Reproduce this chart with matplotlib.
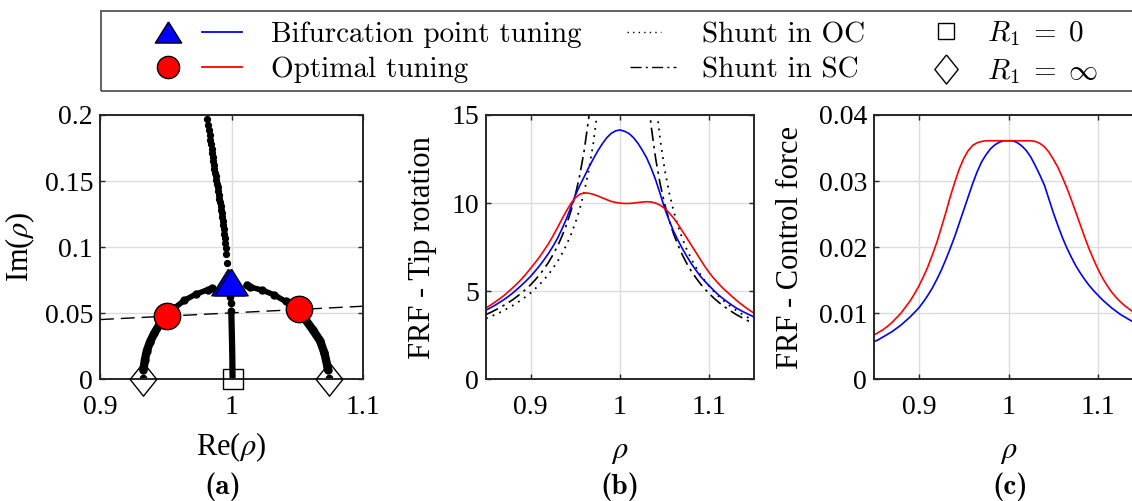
import numpy as np
import matplotlib
matplotlib.use("Agg")
import matplotlib.pyplot as plt
from matplotlib.lines import Line2D
from matplotlib.patches import Rectangle
from matplotlib.legend_handler import HandlerLine2D
from matplotlib.font_manager import FontProperties

plt.rcParams['font.family'] = ['Liberation Serif', 'DejaVu Serif']
plt.rcParams['mathtext.fontset'] = 'stix'

#---- (a) root locus
top_re = [0.9814, 0.9821, 0.9827, 0.9833, 0.9838, 0.9843, 0.9848, 0.9853, 0.9858, 0.9862,
          0.9866, 0.9870, 0.9875, 0.9880, 0.9884, 0.9889, 0.9894, 0.9898, 0.9903, 0.9908,
          0.9913, 0.9917, 0.9922, 0.9926, 0.9930, 0.9934, 0.9938, 0.9942, 0.9946, 0.9950,
          0.9954, 0.9957, 0.9960, 0.9963]
top_im = [0.1967, 0.1925, 0.1885, 0.1848, 0.1812, 0.1778, 0.1745, 0.1713, 0.1682, 0.1652,
          0.1622, 0.1593, 0.1564, 0.1536, 0.1508, 0.1480, 0.1452, 0.1424, 0.1396, 0.1368,
          0.1340, 0.1312, 0.1284, 0.1255, 0.1226, 0.1196, 0.1166, 0.1135, 0.1103, 0.1070,
          0.1035, 0.0995, 0.0945, 0.0880]
left_re = [0.9330, 0.9341, 0.9356, 0.9381, 0.9413, 0.9451, 0.9496, 0.9565, 0.9641, 0.9728, 0.9820, 0.9850]
left_im = [0.0072, 0.0144, 0.0215, 0.0284, 0.0349, 0.0411, 0.0469, 0.0538, 0.0597, 0.0644, 0.0678, 0.0688]
right_re = [1.0115, 1.0138, 1.0234, 1.0326, 1.0412, 1.0490, 1.0559, 1.0617, 1.0673, 1.0707, 1.0729, 1.0735]
right_im = [0.0712, 0.0699, 0.0675, 0.0638, 0.0589, 0.0528, 0.0456, 0.0376, 0.0293, 0.0198, 0.0100, 0.0070]
mid_re = [0.9992, 0.9995, 0.9998, 1.0000, 1.0002, 1.0004, 1.0006, 1.0007, 1.0008]
mid_im = [0.0625, 0.0580, 0.0520, 0.0450, 0.0370, 0.0280, 0.0180, 0.0090, 0.0017]
end_re = [0.9326, 1.0738]
end_im = [0.0013, 0.0013]
dash_re = [0.9, 1.1]
dash_im = [0.0452, 0.0553]
opt_re = [0.9507, 1.0513]
opt_im = [0.0477, 0.0535]
bif_re = [0.9975, 0.9995]
bif_im = [0.0737, 0.0737]
r0_re, r0_im = [1.0009], [0.0]
rinf_re, rinf_im = [0.9326, 1.0745], [0.0, 0.0]

#---- (b), (c) frequency responses, rho = 0.85 ... 1.15 in steps of 0.005
rho = [0.850, 0.855, 0.860, 0.865, 0.870, 0.875, 0.880, 0.885, 0.890, 0.895,
       0.900, 0.905, 0.910, 0.915, 0.920, 0.925, 0.930, 0.935, 0.940, 0.945,
       0.950, 0.955, 0.960, 0.965, 0.970, 0.975, 0.980, 0.985, 0.990, 0.995,
       1.000, 1.005, 1.010, 1.015, 1.020, 1.025, 1.030, 1.035, 1.040, 1.045,
       1.050, 1.055, 1.060, 1.065, 1.070, 1.075, 1.080, 1.085, 1.090, 1.095,
       1.100, 1.105, 1.110, 1.115, 1.120, 1.125, 1.130, 1.135, 1.140, 1.145, 1.150]
tip_bif = [3.92, 4.06, 4.20, 4.36, 4.52, 4.70, 4.90, 5.12, 5.35, 5.59,
           5.85, 6.14, 6.45, 6.79, 7.15, 7.55, 8.00, 8.53, 9.10, 9.77,
           10.45, 11.00, 11.50, 12.02, 12.50, 12.95, 13.35, 13.70, 13.95, 14.10,
           14.15, 14.08, 13.95, 13.72, 13.40, 13.00, 12.55, 11.97, 11.30, 10.52,
           9.70, 9.02, 8.40, 7.88, 7.40, 6.96, 6.55, 6.19, 5.85, 5.56,
           5.30, 5.04, 4.80, 4.59, 4.40, 4.22, 4.05, 3.91, 3.78, 3.66, 3.54]
tip_opt = [4.05, 4.21, 4.38, 4.56, 4.75, 4.97, 5.20, 5.44, 5.70, 5.99,
           6.30, 6.62, 6.95, 7.32, 7.70, 8.14, 8.60, 9.09, 9.55, 9.98,
           10.30, 10.50, 10.58, 10.56, 10.50, 10.41, 10.30, 10.20, 10.10, 10.04,
           10.00, 9.98, 9.98, 10.00, 10.03, 10.06, 10.08, 10.06, 10.00, 9.88,
           9.70, 9.45, 9.15, 8.79, 8.40, 8.00, 7.60, 7.20, 6.80, 6.40,
           6.05, 5.73, 5.45, 5.18, 4.95, 4.72, 4.50, 4.29, 4.10, 3.92, 3.75]
tip_oc = [3.45, 3.55, 3.67, 3.78, 3.91, 4.05, 4.19, 4.35, 4.52, 4.71,
          4.91, 5.14, 5.38, 5.66, 5.96, 6.30, 6.68, 7.12, 7.62, 8.20,
          8.87, 9.68, 10.65, 11.85, 13.35, 15.3, 17.9, 21.7, 27.5, 40.0,
          59.0, 80.0, 80.0, 77.0, 43.7, 30.3, 23.2, 18.8, 15.8, 13.6,
          11.9, 10.6, 9.55, 8.68, 7.96, 7.34, 6.81, 6.35, 5.95, 5.59,
          5.27, 4.99, 4.73, 4.50, 4.29, 4.09, 3.92, 3.75, 3.60, 3.46, 3.33]
tip_sc = [3.68, 3.79, 3.92, 4.05, 4.20, 4.35, 4.52, 4.71, 4.91, 5.13,
          5.37, 5.64, 5.93, 6.27, 6.64, 7.07, 7.55, 8.11, 8.76, 9.53,
          10.46, 11.59, 13.01, 14.83, 17.26, 20.66, 25.8, 34.3, 51.0, 80.0,
          80.0, 80.0, 50.7, 33.7, 25.2, 20.1, 16.75, 14.32, 12.50, 11.08,
          9.95, 9.02, 8.25, 7.60, 7.04, 6.55, 6.13, 5.76, 5.42, 5.12,
          4.86, 4.61, 4.39, 4.19, 4.01, 3.84, 3.68, 3.54, 3.40, 3.28, 3.16]
force_bif = [0.0057, 0.0060, 0.0064, 0.0068, 0.0072, 0.0077, 0.0082, 0.0088, 0.0094, 0.0101,
             0.0108, 0.0117, 0.0127, 0.0138, 0.0151, 0.0165, 0.0181, 0.0198, 0.0216, 0.0236,
             0.0256, 0.0276, 0.0296, 0.0314, 0.0329, 0.0340, 0.0349, 0.0355, 0.0359, 0.0361,
             0.0361, 0.0361, 0.0358, 0.0353, 0.0346, 0.0336, 0.0323, 0.0309, 0.0294, 0.0273,
             0.0252, 0.0233, 0.0215, 0.0199, 0.0185, 0.0172, 0.0161, 0.0151, 0.0142, 0.0134,
             0.0127, 0.0120, 0.0114, 0.0108, 0.0103, 0.0098, 0.0094, 0.0090, 0.0086, 0.0082, 0.0079]
force_opt = [0.0067, 0.0071, 0.0075, 0.0080, 0.0086, 0.0093, 0.0100, 0.0109, 0.0118, 0.0129,
             0.0141, 0.0155, 0.0170, 0.0188, 0.0207, 0.0229, 0.0252, 0.0276, 0.0298, 0.0318,
             0.0334, 0.0346, 0.0354, 0.0358, 0.0360, 0.0361, 0.0361, 0.0361, 0.0361, 0.0361,
             0.0361, 0.0361, 0.0361, 0.0361, 0.0361, 0.0361, 0.0360, 0.0357, 0.0352, 0.0344,
             0.0333, 0.0321, 0.0306, 0.0290, 0.0272, 0.0253, 0.0234, 0.0215, 0.0197, 0.0181,
             0.0166, 0.0153, 0.0142, 0.0132, 0.0124, 0.0117, 0.0111, 0.0106, 0.0101, 0.0097, 0.0093]

rho_ticks = [0.9, 1.0, 1.1]
rho_ticklabels = ['0.9', '1', '1.1']

W, H = 1132, 501
fig = plt.figure(figsize=(W/100, H/100), dpi=100)

def px_axes(left, right, top=115, bottom=379.3):
    return fig.add_axes([left/W, 1-bottom/H, (right-left)/W, (bottom-top)/H])

def style(ax, xlim, ylim, xt, xtl, yt, ytl):
    ax.set_xlim(xlim); ax.set_ylim(ylim)
    ax.set_xticks(xt); ax.set_xticklabels(xtl)
    ax.set_yticks(yt); ax.set_yticklabels(ytl)
    ax.grid(True, color='#dcdcdc', lw=1.0)
    ax.set_axisbelow(True)
    ax.tick_params(direction='in', top=True, right=True, length=3.5, width=1,
                   labelsize=20, color='#262626')
    ax.tick_params(axis='x', pad=11)
    ax.tick_params(axis='y', pad=5)
    for s in ax.spines.values():
        s.set_linewidth(1.4); s.set_color('#262626')

tri = [(0, 0.8), (-1, -0.8), (1, -0.8), (0, 0.8)]
dia = [(0, 1), (0.8, 0), (0, -1), (-0.8, 0), (0, 1)]

#---- panel (a)
ax_a = px_axes(100, 363)
ax_a.plot(top_re, top_im, 'o', color='k', ms=4.2)
ax_a.plot(left_re, left_im, '-o', color='k', lw=4.0, ms=5)
ax_a.plot(left_re[:7], left_im[:7], '-', color='k', lw=6.0, solid_capstyle='round')
ax_a.plot(right_re, right_im, '-o', color='k', lw=4.0, ms=5)
ax_a.plot(right_re[5:], right_im[5:], '-', color='k', lw=6.0, solid_capstyle='round')
ax_a.plot(mid_re[:3], mid_im[:3], 'o', color='k', ms=4.5)
ax_a.plot(mid_re[2:], mid_im[2:], '-', color='k', lw=4.5, solid_capstyle='round')
ax_a.plot(end_re, end_im, 'o', color='k', ms=4.5)
ax_a.plot(dash_re, dash_im, '--', color='k', lw=1.0, dashes=(10, 5))
ax_a.plot(opt_re, opt_im, 'o', ms=19, mfc='r', mec='k', mew=1, zorder=5)
ax_a.plot(bif_re, bif_im, marker=tri, ls='none', ms=24, mfc='b', mec='k', mew=1, zorder=5)
ax_a.plot(r0_re, r0_im, 's', ms=15, mfc='none', mec='k', mew=1, clip_on=False, zorder=5)
ax_a.plot(rinf_re, rinf_im, marker=dia, ls='none', ms=24, mfc='none', mec='k', mew=1, clip_on=False, zorder=5)
style(ax_a, (0.9, 1.1), (0, 0.2), rho_ticks, rho_ticklabels,
      [0, 0.05, 0.1, 0.15, 0.2], ['0', '0.05', '0.1', '0.15', '0.2'])
ax_a.set_xlabel(r'Re($\rho$)', fontsize=22)
ax_a.set_ylabel(r'Im($\rho$)', fontsize=22)
ax_a.xaxis.set_label_coords(0.5, -0.195)
ax_a.yaxis.set_label_coords(-0.24, 0.5)

#---- panel (b)
ax_b = px_axes(486, 754)
ax_b.plot(rho, tip_oc, color='k', lw=1.3, ls=(0, (1, 3)))
ax_b.plot(rho, tip_sc, color='k', lw=1.2, ls=(0, (8, 3, 1.5, 3)))
ax_b.plot(rho, tip_bif, color='b', lw=1.2)
ax_b.plot(rho, tip_opt, color='r', lw=1.2)
style(ax_b, (0.85, 1.15), (0, 15), rho_ticks, rho_ticklabels,
      [0, 5, 10, 15], ['0', '5', '10', '15'])
ax_b.set_xlabel(r'$\rho$', fontsize=22)
ax_b.set_ylabel('FRF - Tip rotation', fontsize=22)
ax_b.xaxis.set_label_coords(0.5, -0.22)
ax_b.yaxis.set_label_coords(-0.183, 0.5)

#---- panel (c)
ax_c = px_axes(874, 1143)
ax_c.plot(rho, force_bif, color='b', lw=1.2)
ax_c.plot(rho, force_opt, color='r', lw=1.2)
style(ax_c, (0.85, 1.15), (0, 0.04), rho_ticks, rho_ticklabels,
      [0, 0.01, 0.02, 0.03, 0.04], ['0', '0.01', '0.02', '0.03', '0.04'])
ax_c.set_xlabel(r'$\rho$', fontsize=22)
ax_c.set_ylabel('FRF - Control force', fontsize=22)
ax_c.xaxis.set_label_coords(0.5, -0.22)
ax_c.yaxis.set_label_coords(-0.2565, 0.5)

for x, lab in [(223, '(a)'), (620, '(b)'), (1010, '(c)')]:
    fig.text(x/W, 1-487/H, lab, family='cmb10', fontsize=21, ha='center', va='center')

#---- legend, three columns inside one frame
class SpanHandler(HandlerLine2D):
    def __init__(self, x0, x1):
        super().__init__()
        self.x0, self.x1 = x0, x1

    def get_xdata(self, legend, xdescent, ydescent, width, height, fontsize):
        xs = np.array([self.x0, self.x1]) * width - xdescent
        return xs, np.array([xs.mean()])

fs = 21
fs_px = fs * 100 / 72
fp = FontProperties(family='cmr10', size=fs, math_fontfamily='cm')

tri_h = Line2D([], [], ls='none', marker=tri, ms=19, mfc='b', mec='k', mew=1)
blue_h = Line2D([], [], color='b', lw=1.3)
circ_h = Line2D([], [], ls='none', marker='o', ms=16, mfc='r', mec='k', mew=1)
red_h = Line2D([], [], color='r', lw=1.3)
oc_h = Line2D([], [], color='k', lw=1.0, ls=(0, (1, 3)))
sc_h = Line2D([], [], color='k', lw=1.0, ls=(0, (8, 3, 1.5, 3)))
sq_h = Line2D([], [], ls='none', marker='s', ms=12, mfc='none', mec='k', mew=1)
di_h = Line2D([], [], ls='none', marker=dia, ms=21, mfc='none', mec='k', mew=1)

columns = [
    (150, 100, 21, [(tri_h, blue_h), (circ_h, red_h)], ['Bifurcation point tuning', 'Optimal tuning'],
     {tri_h: SpanHandler(0.18, 0.18), blue_h: SpanHandler(0.52, 0.92),
      circ_h: SpanHandler(0.18, 0.18), red_h: SpanHandler(0.52, 0.92)}),
    (620, 60, 22, [oc_h, sc_h], ['Shunt in OC', 'Shunt in SC'],
     {oc_h: SpanHandler(0.117, 0.683), sc_h: SpanHandler(0.167, 0.933)}),
    (930, 32, 25, [sq_h, di_h], [r'$R_1 \;=\; 0$', r'$R_1 \;=\; \infty$'],
     {sq_h: SpanHandler(0.5, 0.5), di_h: SpanHandler(0.5, 0.5)}),
]
for left, width, pad, handles, labels, hmap in columns:
    fig.legend(handles, labels, handler_map=hmap, loc='center left',
               bbox_to_anchor=(left/W, 1-52.5/H), frameon=False, prop=fp,
               borderpad=0, borderaxespad=0, numpoints=1,
               handlelength=width/fs_px, handletextpad=pad/fs_px, labelspacing=0.3)

fig.add_artist(Rectangle((101/W, 1-91/H), 1.2, 80/H, transform=fig.transFigure,
                         fill=False, ec='#555555', lw=1.3, clip_on=False))

fig.savefig('out.png', dpi=100)
